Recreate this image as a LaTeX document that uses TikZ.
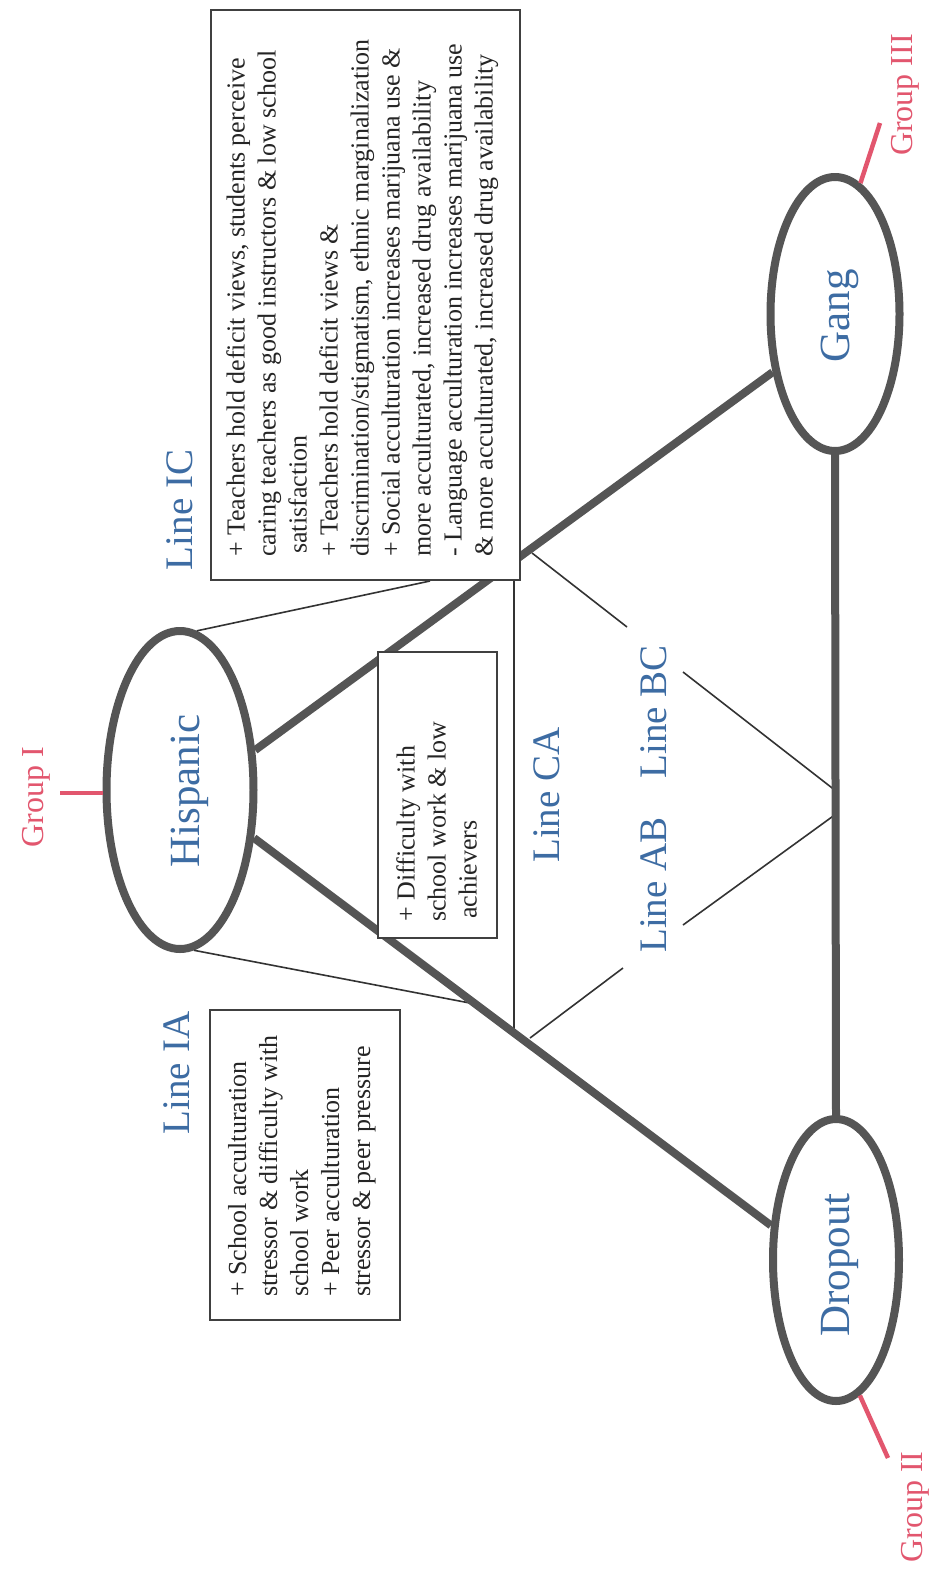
\documentclass[tikz,border=0pt]{standalone}
\usepackage{fontspec}
\setmainfont{Liberation Serif}
\usetikzlibrary{shapes.geometric,calc}
\definecolor{lblblue}{HTML}{3D6CA3}
\definecolor{grpred}{HTML}{E2566E}
\definecolor{edgegray}{HTML}{555555}
\definecolor{txtgray}{HTML}{252525}
\begin{document}
\begin{tikzpicture}[x=1pt,y=-1pt,
  groupnode/.style={ellipse, draw=edgegray, line width=8pt, inner sep=0pt},
  thickline/.style={draw=edgegray, line width=8pt},
  thinline/.style={draw=black!80, line width=1.6pt},
  grouptick/.style={draw=grpred, line width=4.5pt},
  boxframe/.style={draw=black!75, line width=1.8pt, fill=white, inner sep=0pt},
  boxtext/.style={rotate=90, anchor=north west, align=left, inner sep=0pt, text=txtgray, font=\fontsize{26}{31}\selectfont},
  linelabel/.style={rotate=90, text=lblblue, font=\fontsize{39}{39}\selectfont, inner sep=0pt},
  grouplabel/.style={rotate=90, text=grpred, font=\fontsize{32}{32}\selectfont, inner sep=0pt},
  namelabel/.style={rotate=90, text=lblblue, font=\fontsize{43}{43}\selectfont, inner sep=0pt}]

\fill[white] (0,0) rectangle (931,1575);
\useasboundingbox (0,0) rectangle (931,1575);

% ellipses
\node[groupnode, minimum width=147, minimum height=318] (hisp) at (180,790) {};
\node[groupnode, minimum width=129, minimum height=274] (gang) at (835,314) {};
\node[groupnode, minimum width=126, minimum height=282] (drop) at (836,1260) {};

\node[namelabel] (htext) at (190,791) {Hispanic};
\node[namelabel] (gtext) at (840,316) {Gang};
\node[namelabel] (dtext) at (840,1265) {Dropout};

% named points
\coordinate (icb) at (430,581);
\coordinate (iab) at (475,1004);
\coordinate (ca1) at (514,580);
\coordinate (ca2) at (514,1030);
\coordinate (bc1) at (532,553);
\coordinate (bc2) at (627,627);
\coordinate (bc3) at (683,672);
\coordinate (bc4) at (836,791);
\coordinate (ab1) at (530,1038);
\coordinate (ab2) at (623,968);
\coordinate (ab3) at (683,925);
\coordinate (ab4) at (836,814);
\coordinate (g1) at (60,793);
\coordinate (g3) at (880,123);
\coordinate (g2) at (888,1458);

% thin lines
\draw[thinline] (hisp.84) -- (icb);
\draw[thinline] (hisp.-85) -- (iab);
\draw[thinline] (ca1) -- (ca2);
\draw[thinline] (bc1) -- (bc2);
\draw[thinline] (bc3) -- (bc4);
\draw[thinline] (ab1) -- (ab2);
\draw[thinline] (ab3) -- (ab4);

% thick lines
\draw[thickline] (hisp.28) -- (gang.223);
\draw[thickline] (hisp.-33) -- (drop.152);
\draw[thickline] (gang.south) -- (drop.north);

% group ticks
\draw[grouptick] (g1) -- (g1 -| hisp.west);
\draw[grouptick] (gang.79) -- (g3);
\draw[grouptick] (drop.-80) -- (g2);

\node[grouplabel] (g1t) at (36,797) {Group I};
\node[grouplabel] (g3t) at (905,95) {Group III};
\node[grouplabel] (g2t) at (915,1507) {Group II};

% boxes
\node[boxframe, minimum width=309, minimum height=570] (icbox) at (365.5,295) {};
\node[boxframe, minimum width=119, minimum height=286] (dbox) at (437.5,795) {};
\node[boxframe, minimum width=190, minimum height=310] (iabox) at (305,1165) {};

\node[boxtext] (ictext) at (226,557) {+ Teachers hold deficit views, students perceive\\
caring teachers as good instructors \& low school\\
\hspace*{3pt}satisfaction\\
+ Teachers hold deficit views \&\\
discrimination/stigmatism, ethnic marginalization\\
+ Social acculturation increases marijuana use \&\\
more acculturated, increased drug availability\\
- Language acculturation increases marijuana use\\
\& more acculturated, increased drug availability};

\node[boxtext] (dtext2) at (396,922) {+ Difficulty with\\
school work \& low\\
\hspace*{3pt}achievers};

\node[boxtext] (iatext) at (228,1297) {+ School acculturation\\
stressor \& difficulty with\\
school work\\
+ Peer acculturation\\
stressor \& peer pressure};

% line labels
\node[linelabel] (lic) at (180,510) {Line IC};
\node[linelabel] (lia) at (177,1073) {Line IA};
\node[linelabel] (lca) at (547,795) {Line CA};
\node[linelabel] (lbc) at (654,712) {Line BC};
\node[linelabel] (lab) at (654,885) {Line AB};
\end{tikzpicture}
\end{document}
